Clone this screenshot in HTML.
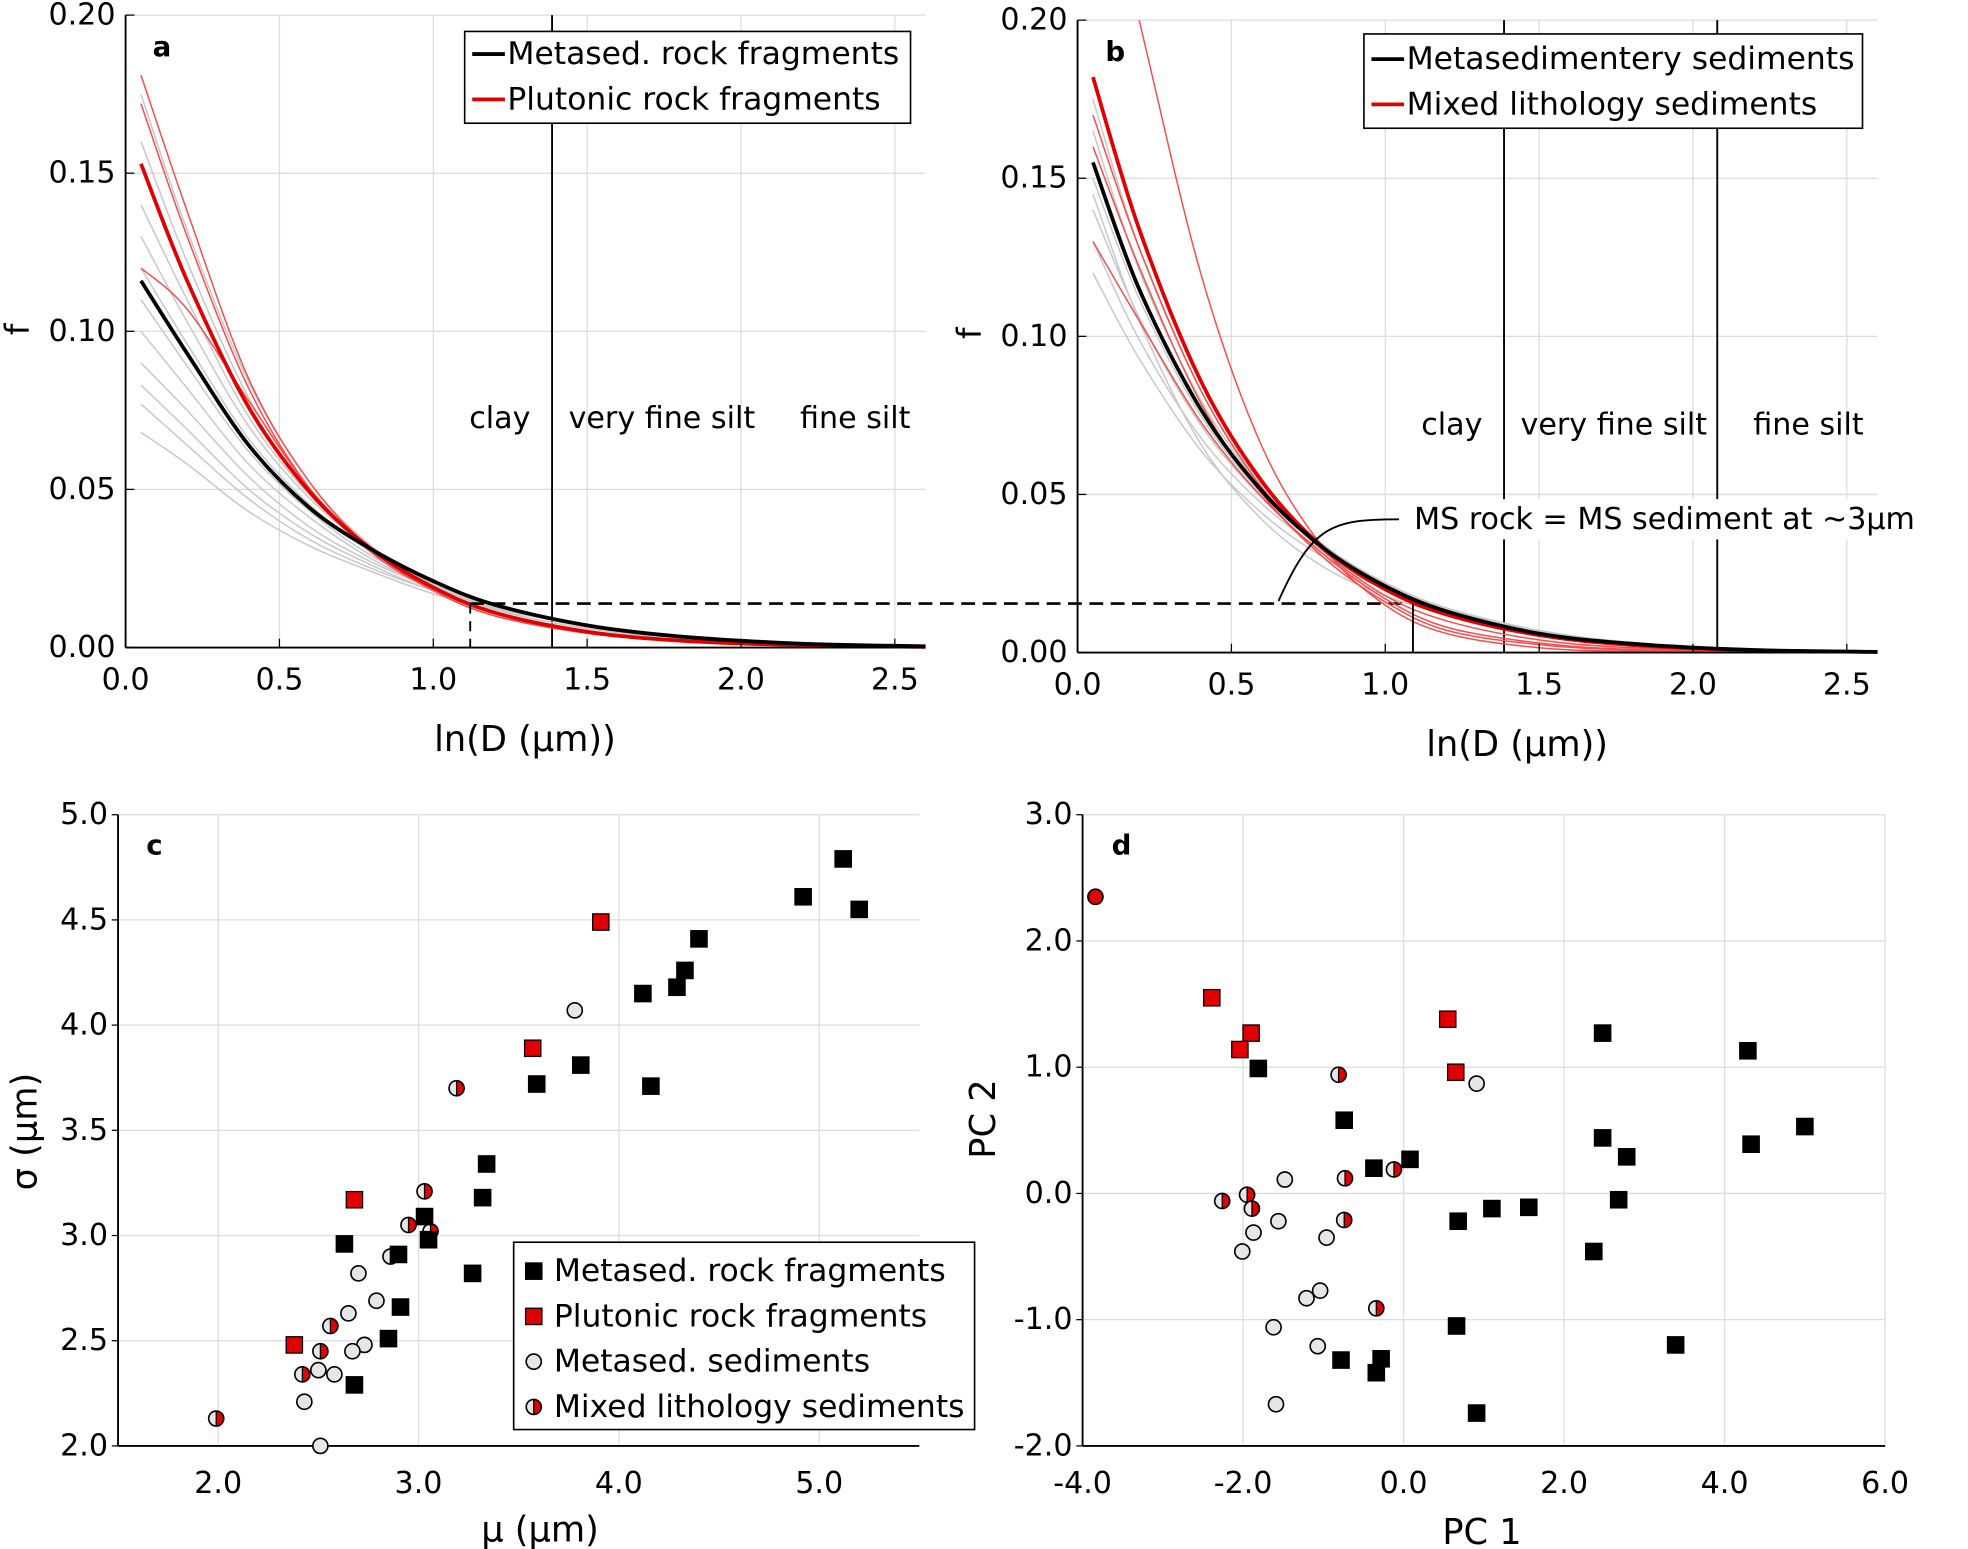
<!DOCTYPE html>
<html><head><meta charset="utf-8">
<style>
html,body{margin:0;padding:0;background:#fff;}
svg{display:block;}
text{font-family:"DejaVu Sans","Liberation Sans",sans-serif;fill:#000;}
</style></head>
<body>
<svg id="fig" width="1968" height="1549" viewBox="0 0 1567 1232" preserveAspectRatio="none" xmlns="http://www.w3.org/2000/svg">
<g id="gA"></g>
<g id="gB"></g>
<g id="gC"></g>
<g id="gD"></g>
</svg>
<script>
// ---------- data ----------
const lnX = [0.05,0.2,0.4,0.6,0.8,1.0,1.2,1.5,1.8,2.2,2.6];
const blackA = [0.116,0.093,0.064,0.044,0.031,0.021,0.0135,0.007,0.0035,0.0012,0.0004];
const redA = [0.153,0.116,0.076,0.049,0.031,0.019,0.011,0.005,0.0022,0.0007,0.0002];
const thinRedA1 = [0.181,0.138,0.085,0.052,0.031,0.018,0.010,0.0045,0.002,0.0006,0.0002];
const thinRedA2 = [0.172,0.130,0.082,0.050,0.030,0.018,0.010,0.0045,0.002,0.0006,0.0002];
const thinRedA3 = [0.120,0.107,0.078,0.050,0.031,0.019,0.011,0.005,0.0022,0.0007,0.0002];
const grayA1 = [0.175,0.132,0.084,0.052,0.032,0.020,0.012,0.006,0.0028,0.0009,0.0003];
const grayA2 = [0.160,0.122,0.079,0.050,0.031,0.020,0.012,0.006,0.0028,0.0009,0.0003];
const grayA3 = [0.140,0.110,0.073,0.048,0.031,0.020,0.013,0.0065,0.003,0.001,0.0003];
const grayA4 = [0.130,0.103,0.070,0.047,0.031,0.020,0.013,0.0065,0.003,0.001,0.0003];
const grayA5 = [0.120,0.096,0.066,0.045,0.030,0.020,0.013,0.007,0.0033,0.0011,0.0004];
const grayA6 = [0.110,0.089,0.062,0.043,0.029,0.020,0.013,0.007,0.0035,0.0012,0.0004];
const grayA7 = [0.100,0.082,0.058,0.041,0.028,0.019,0.013,0.007,0.0036,0.0013,0.0004];
const grayA8 = [0.090,0.075,0.054,0.038,0.027,0.019,0.013,0.0072,0.0037,0.0013,0.0004];
const grayA9 = [0.083,0.069,0.050,0.036,0.026,0.018,0.0125,0.0072,0.0038,0.0014,0.0005];
const grayA10 = [0.077,0.064,0.047,0.034,0.025,0.018,0.0125,0.0072,0.0038,0.0014,0.0005];
const grayA11 = [0.068,0.058,0.043,0.032,0.024,0.017,0.012,0.0072,0.0039,0.0015,0.0005];
const blackB = [0.155,0.115,0.077,0.051,0.033,0.021,0.013,0.006,0.0028,0.0008,0.0002];
const redB = [0.182,0.134,0.086,0.054,0.033,0.020,0.012,0.0055,0.0024,0.0007,0.0002];
const thinRedB1 = [0.26,0.20,0.12,0.065,0.033,0.015,0.006,0.0015,0.0004,0.0001,0];
const thinRedB2 = [0.17,0.128,0.083,0.052,0.032,0.018,0.010,0.004,0.0015,0.0004,0.0001];
const thinRedB3 = [0.13,0.105,0.073,0.049,0.031,0.017,0.008,0.003,0.001,0.0003,0.0001];
const thinRedB4 = [0.16,0.122,0.079,0.050,0.030,0.016,0.007,0.0025,0.0008,0.0002,0];
const grayB1 = [0.175,0.128,0.083,0.053,0.034,0.022,0.014,0.0065,0.003,0.0009,0.0003];
const grayB2 = [0.165,0.121,0.080,0.052,0.034,0.022,0.014,0.0065,0.003,0.0009,0.0003];
const grayB3 = [0.150,0.112,0.075,0.050,0.033,0.022,0.014,0.0068,0.0031,0.001,0.0003];
const grayB4 = [0.140,0.106,0.072,0.049,0.033,0.022,0.014,0.0068,0.0031,0.001,0.0003];
const grayB5 = [0.130,0.099,0.068,0.047,0.032,0.021,0.014,0.007,0.0032,0.001,0.0003];
const grayB6 = [0.120,0.093,0.064,0.044,0.030,0.020,0.013,0.0065,0.003,0.001,0.0003];
const grayB7 = [0.145,0.105,0.066,0.042,0.027,0.018,0.012,0.006,0.0028,0.0009,0.0003];
const dashF = 0.0139;
const dashXA = 1.12;
const dashXB = 1.09;
const boundX = [1.386, 2.079];

const cTicksX = [2.0,3.0,4.0,5.0];
const cTicksY = [2.0,2.5,3.0,3.5,4.0,4.5,5.0];
const cBlackX = [5.12,4.92,5.20,4.40,4.33,4.29,4.12,3.81,3.59,4.16,3.34,3.32,3.03,2.63,2.90,3.05,3.27,2.91,2.85,2.68];
const cBlackY = [4.79,4.61,4.55,4.41,4.26,4.18,4.15,3.81,3.72,3.71,3.34,3.18,3.09,2.96,2.91,2.98,2.82,2.66,2.51,2.29];
const cRedX = [3.91,3.57,2.68,2.38];
const cRedY = [4.49,3.89,3.17,2.48];
const cGrayX = [3.78,2.70,2.86,2.79,2.65,2.73,2.67,2.50,2.58,2.43,2.51];
const cGrayY = [4.07,2.82,2.90,2.69,2.63,2.48,2.45,2.36,2.34,2.21,2.00];
const cMixX = [3.19,3.03,2.95,3.06,2.56,2.51,2.42,1.99];
const cMixY = [3.70,3.21,3.05,3.02,2.57,2.45,2.34,2.13];

const dTicksX = [-4,-2,0,2,4,6];
const dTicksY = [-2,-1,0,1,2,3];
const dBlackX = [-1.81,-0.74,-0.37,0.08,2.48,2.48,2.78,2.68,2.37,0.68,1.10,1.56,4.29,4.33,5.00,0.66,-0.78,-0.28,-0.34,3.39,0.91];
const dBlackY = [0.99,0.58,0.20,0.27,1.27,0.44,0.29,-0.05,-0.46,-0.22,-0.12,-0.11,1.13,0.39,0.53,-1.05,-1.32,-1.31,-1.42,-1.20,-1.74];
const dRedX = [-2.39,0.55,-1.90,-2.04,0.65];
const dRedY = [1.55,1.38,1.27,1.14,0.96];
const dGrayX = [0.91,-1.48,-1.56,-1.87,-2.01,-0.96,-1.04,-1.21,-1.62,-1.07,-1.59];
const dGrayY = [0.87,0.11,-0.22,-0.31,-0.46,-0.35,-0.77,-0.83,-1.06,-1.21,-1.67];
const dMixX = [-0.81,-0.73,-0.12,-1.95,-2.26,-1.89,-0.74,-0.34];
const dMixY = [0.94,0.12,0.19,-0.01,-0.06,-0.12,-0.21,-0.91];
const dFullRedX = [-3.84];
const dFullRedY = [2.35];

// ---------- helpers ----------
const NS='http://www.w3.org/2000/svg';
function mk(parent,tag,attrs){const e=document.createElementNS(NS,tag);for(const k in attrs)e.setAttribute(k,attrs[k]);parent.appendChild(e);return e;}
function lin(d0,d1,r0,r1){return v=>r0+(v-d0)/(d1-d0)*(r1-r0);}
function smoothPath(pts){
  let d='M'+pts[0][0]+','+pts[0][1];
  for(let i=0;i<pts.length-1;i++){
    const p0=pts[Math.max(0,i-1)],p1=pts[i],p2=pts[i+1],p3=pts[Math.min(pts.length-1,i+2)];
    const c1x=p1[0]+(p2[0]-p0[0])/6,c1y=p1[1]+(p2[1]-p0[1])/6;
    const c2x=p2[0]-(p3[0]-p1[0])/6,c2y=p2[1]-(p3[1]-p1[1])/6;
    d+=' C'+c1x+','+c1y+' '+c2x+','+c2y+' '+p2[0]+','+p2[1];
  }
  return d;
}
function txt(parent,x,y,s,opt){
  const t=mk(parent,'text',{x:x,y:y,'font-size':opt.size||24,'text-anchor':opt.anchor||'middle','dominant-baseline':'central'});
  if(opt.weight)t.setAttribute('font-weight',opt.weight);
  if(opt.rot)t.setAttribute('transform','rotate(-90 '+x+' '+y+')');
  t.textContent=s;return t;
}

function curvePanel(g,L,R,T,B,xmax,sets,label,legend,bounds){
  const sx=lin(0,xmax,L,R), sy=lin(0,0.2,B,T);
  [0.5,1.0,1.5,2.0,2.5].forEach(v=>{const l=mk(g,'line',{x1:sx(v),x2:sx(v),y1:T,y2:B,stroke:'#dcdcdc','stroke-width':1});
    });
  [0.05,0.10,0.15,0.20].forEach(v=>{const l=mk(g,'line',{x1:L,x2:R,y1:sy(v),y2:sy(v),stroke:'#dcdcdc','stroke-width':1});
    });
  bounds.forEach(v=>{const l=mk(g,'line',{x1:sx(v),x2:sx(v),y1:T,y2:B,stroke:'#000','stroke-width':1.5});
    });
  const cid='clip'+label;
  const cp=mk(g,'clipPath',{id:cid});mk(cp,'rect',{x:L,y:T,width:R-L,height:B-T+3});
  const cg=mk(g,'g',{'clip-path':'url(#'+cid+')'});
  sets.forEach(s=>{
    const pts=lnX.map((x,i)=>[sx(x),sy(s.y[i])]);
    const p=mk(cg,'path',{d:smoothPath(pts),fill:'none',stroke:s.c,'stroke-width':s.w,'stroke-opacity':s.o||1});
    
  });
  let a=mk(g,'line',{x1:L,x2:L,y1:T,y2:B,stroke:'#000','stroke-width':1.5});
  
  a=mk(g,'line',{x1:L,x2:R,y1:B,y2:B,stroke:'#000','stroke-width':1.5});
  
  [0,0.5,1.0,1.5,2.0,2.5].forEach(v=>{
    mk(g,'line',{x1:sx(v),x2:sx(v),y1:B,y2:B-7,stroke:'#000','stroke-width':1});
    const t=txt(g,sx(v),B+26,v.toFixed(1),{size:24});
  });
  [0,0.05,0.10,0.15,0.20].forEach(v=>{
    mk(g,'line',{x1:L,x2:L+7,y1:sy(v),y2:sy(v),stroke:'#000','stroke-width':1});
    const t=txt(g,L-8,sy(v),v.toFixed(2),{size:24,anchor:'end'});
  });
  return {sx,sy};
}

const gA=document.getElementById('gA');
const setsA=[grayA1,grayA2,grayA3,grayA4,grayA5,grayA6,grayA7,grayA8,grayA9,grayA10,grayA11].map(y=>({y:y,c:'#c8c8c8',w:1.2,n:'gray-curve'}))
 .concat([thinRedA1,thinRedA2,thinRedA3].map(y=>({y:y,c:'#f05050',w:1.2,n:'thin-red-curve'})))
 .concat([{y:redA,c:'#e00000',w:3,n:'plutonic-mean-curve'},{y:blackA,c:'#000',w:3,n:'metased-mean-curve'}]);
const A=curvePanel(gA,100,737,12,515,2.6,setsA,'a',null,[boundX[0]]);
const gB=document.getElementById('gB');
const setsB=[grayB1,grayB2,grayB3,grayB4,grayB5,grayB6,grayB7].map(y=>({y:y,c:'#c8c8c8',w:1.2,n:'gray-curve'}))
 .concat([thinRedB1,thinRedB2,thinRedB3,thinRedB4].map(y=>({y:y,c:'#f05050',w:1.2,n:'thin-red-curve'})))
 .concat([{y:redB,c:'#e00000',w:3,n:'mixed-mean-curve'},{y:blackB,c:'#000',w:3,n:'metased-sediment-mean-curve'}]);
const Bp=curvePanel(gB,858,1495,16,519,2.6,setsB,'b',null,boundX);

function lbl(g,x,y,s,name,opt){const t=txt(g,x,y,s,opt||{});return t;}
lbl(gA,129,37,'a','panel-label-a',{size:22,weight:'bold'});
lbl(gB,888,41,'b','panel-label-b',{size:22,weight:'bold'});
lbl(gA,14,262,'f','y-axis-title',{size:26,rot:true});
lbl(gB,772,265,'f','y-axis-title',{size:26,rot:true});
lbl(gA,418,588,'ln(D (μm))','x-axis-title',{size:28});
lbl(gB,1208,592,'ln(D (μm))','x-axis-title',{size:28});
lbl(gA,398,333,'clay','clay-label',{size:24});
lbl(gA,527,333,'very fine silt','very-fine-silt-label',{size:24});
lbl(gA,681,333,'fine silt','fine-silt-label',{size:24});
lbl(gB,1156,338,'clay','clay-label',{size:24});
lbl(gB,1285,338,'very fine silt','very-fine-silt-label',{size:24});
lbl(gB,1440,338,'fine silt','fine-silt-label',{size:24});
function legendLines(g,x0,y0,x1,y1,items,name){
  const r=mk(g,'rect',{x:x0,y:y0,width:x1-x0,height:y1-y0,fill:'#fff',stroke:'#000','stroke-width':1.3});
  
  items.forEach(it=>{
    const l=mk(g,'line',{x1:x0+6,x2:x0+32,y1:it.y,y2:it.y,stroke:it.c,'stroke-width':3});
    
    const t=txt(g,x0+34,it.y,it.t,{size:25,anchor:'start'});
  });
}
legendLines(gA,370,25,725,98,[{y:43,c:'#000',t:'Metased. rock fragments'},{y:79,c:'#e00000',t:'Plutonic rock fragments'}],'legend-a');
legendLines(gB,1086,27,1483,102,[{y:47,c:'#000',t:'Metasedimentery sediments'},{y:83,c:'#e00000',t:'Mixed lithology sediments'}],'legend-b');
const gy=A.sy(dashF);
let dl=mk(gA,'line',{x1:A.sx(dashXA),x2:Bp.sx(dashXB),y1:gy,y2:gy,stroke:'#000','stroke-width':2,'stroke-dasharray':'11,6'});

dl=mk(gA,'line',{x1:A.sx(dashXA),x2:A.sx(dashXA),y1:gy,y2:515,stroke:'#000','stroke-width':1.5,'stroke-dasharray':'8,6'});

dl=mk(gB,'line',{x1:Bp.sx(dashXB),x2:Bp.sx(dashXB),y1:gy,y2:519,stroke:'#000','stroke-width':1.5});

mk(gB,'rect',{x:1106,y:397,width:440,height:32,fill:'#fff'});
const lead=mk(gB,'path',{d:'M1114,413 C1060,413 1045,418 1018,478',fill:'none',stroke:'#000','stroke-width':1.5});

lbl(gB,1126,413,'MS rock = MS sediment at ~3μm','annotation-text',{size:24,anchor:'start'});

function scatterPanel(g,L,R,T,B,xd,yd,xt,yt,fmt){
  const sx=lin(xd[0],xd[1],L,R), sy=lin(yd[0],yd[1],B,T);
  xt.forEach(v=>{const l=mk(g,'line',{x1:sx(v),x2:sx(v),y1:T,y2:B,stroke:'#dcdcdc','stroke-width':1});
    const t=txt(g,sx(v),B+30,fmt(v),{size:24});});
  yt.forEach(v=>{const l=mk(g,'line',{x1:L,x2:R,y1:sy(v),y2:sy(v),stroke:'#dcdcdc','stroke-width':1});
    mk(g,'line',{x1:L-5,x2:L,y1:sy(v),y2:sy(v),stroke:'#000','stroke-width':1});
    const t=txt(g,L-8,sy(v),fmt(v),{size:24,anchor:'end'});});
  let a=mk(g,'line',{x1:L,x2:L,y1:T,y2:B,stroke:'#000','stroke-width':1.5});
  a=mk(g,'line',{x1:L,x2:R,y1:B,y2:B,stroke:'#000','stroke-width':1.5});
  return {sx,sy};
}
function sq(g,x,y,fill,name){const r=mk(g,'rect',{x:x-6.5,y:y-6.5,width:13,height:13,fill:fill,stroke:'#000','stroke-width':1});}
function circ(g,x,y,fill,name){const c=mk(g,'circle',{cx:x,cy:y,r:6,fill:fill,stroke:'#000','stroke-width':1.3});}
function mix(g,x,y,name){const gg=mk(g,'g',{});
  mk(gg,'path',{d:`M${x},${y-6} A6,6 0 0 0 ${x},${y+6} Z`,fill:'#e6e6e6'});
  mk(gg,'path',{d:`M${x},${y-6} A6,6 0 0 1 ${x},${y+6} Z`,fill:'#e00000'});
  mk(gg,'line',{x1:x,x2:x,y1:y-6,y2:y+6,stroke:'#000','stroke-width':1});
  mk(gg,'circle',{cx:x,cy:y,r:6,fill:'none',stroke:'#000','stroke-width':1.3});}

const gC=document.getElementById('gC');
const C=scatterPanel(gC,94,732,648,1150,[1.5,5.5],[2,5],cTicksX,cTicksY,v=>v.toFixed(1));
cGrayX.forEach((x,i)=>circ(gC,C.sx(x),C.sy(cGrayY[i]),'#e6e6e6','metased-sediment-point'));
cMixX.forEach((x,i)=>mix(gC,C.sx(x),C.sy(cMixY[i]),'mixed-sediment-point'));
cBlackX.forEach((x,i)=>sq(gC,C.sx(x),C.sy(cBlackY[i]),'#000','metased-rock-point'));
cRedX.forEach((x,i)=>sq(gC,C.sx(x),C.sy(cRedY[i]),'#e00000','plutonic-rock-point'));
lbl(gC,123,672,'c','panel-label-c',{size:22,weight:'bold'});
lbl(gC,20,900,'σ (μm)','y-axis-title',{size:28,rot:true});
lbl(gC,430,1217,'μ (μm)','x-axis-title',{size:28});
let lr=mk(gC,'rect',{x:409,y:988,width:367,height:149,fill:'#fff',stroke:'#000','stroke-width':1.3});

sq(gC,425,1011,'#000','legend-marker');sq(gC,425,1047,'#e00000','legend-marker');
circ(gC,425,1083,'#e6e6e6','legend-marker');mix(gC,425,1119,'legend-marker');
[['Metased. rock fragments',1011],['Plutonic rock fragments',1047],['Metased. sediments',1083],['Mixed lithology sediments',1119]].forEach(a=>lbl(gC,441,a[1],a[0],'legend-entry',{size:25,anchor:'start'}));

const gD=document.getElementById('gD');
const D=scatterPanel(gD,862,1501,648,1150,[-4,6],[-2,3],dTicksX,dTicksY,v=>v.toFixed(1));
dGrayX.forEach((x,i)=>circ(gD,D.sx(x),D.sy(dGrayY[i]),'#e6e6e6','metased-sediment-point'));
dMixX.forEach((x,i)=>mix(gD,D.sx(x),D.sy(dMixY[i]),'mixed-sediment-point'));
dFullRedX.forEach((x,i)=>circ(gD,D.sx(x),D.sy(dFullRedY[i]),'#e00000','mixed-sediment-point'));
dBlackX.forEach((x,i)=>sq(gD,D.sx(x),D.sy(dBlackY[i]),'#000','metased-rock-point'));
dRedX.forEach((x,i)=>sq(gD,D.sx(x),D.sy(dRedY[i]),'#e00000','plutonic-rock-point'));
lbl(gD,893,672,'d','panel-label-d',{size:22,weight:'bold'});
lbl(gD,783,890,'PC 2','y-axis-title',{size:28,rot:true});
lbl(gD,1180,1219,'PC 1','x-axis-title',{size:28});
</script>
</body></html>
